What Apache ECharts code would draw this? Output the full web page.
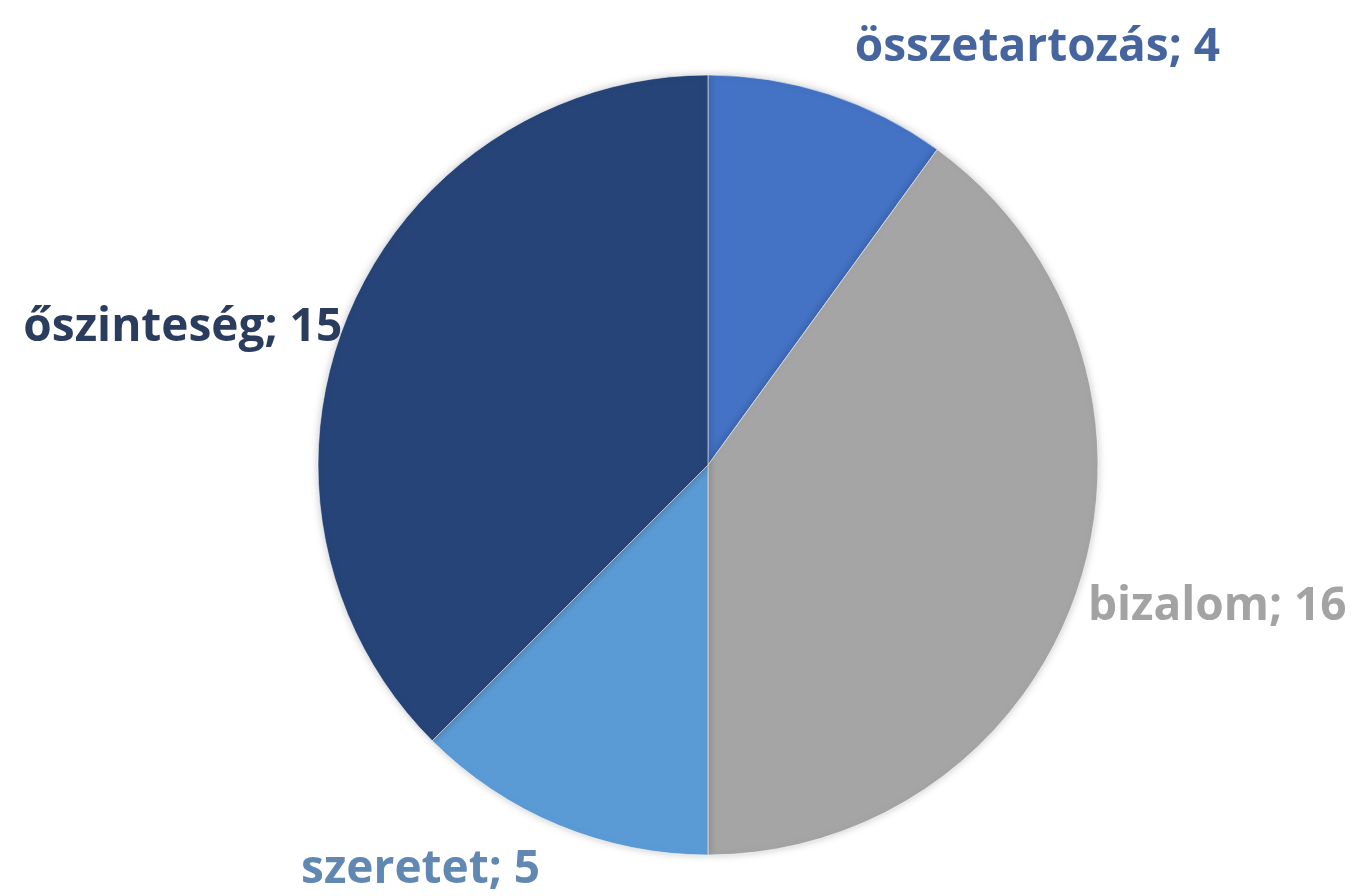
<!DOCTYPE html>
<html>
<head>
<meta charset="utf-8">
<script src="https://cdn.jsdelivr.net/npm/echarts@6/dist/echarts.min.js"></script>
<style>
  html, body { margin: 0; padding: 0; background: #ffffff; }
  #chart { width: 1361px; height: 896px; }
</style>
</head>
<body>
<div id="chart"></div>
<script>
// Values by category, clockwise from 12 o'clock
const categories = ['összetartozás', 'bizalom', 'szeretet', 'őszinteség'];
const values = [4, 16, 5, 15];

// Slice fills and label text colours
const sliceColors = ['#4472C4', '#A5A5A5', '#5B9BD5', '#264478'];
const labelColors = ['#46659f', '#a3a3a3', '#6188b2', '#2b3d5e'];

// Small nudges of each label away from its default outside spot
const labelNudge = [[15, -27], [-15, 15], [-6, 26], [18, 20]];

const chart = echarts.init(document.getElementById('chart'));

const data = categories.map((name, i) => ({
  name: name,
  value: values[i],
  itemStyle: { color: sliceColors[i] },
  label: { color: labelColors[i] }
}));

chart.setOption({
  animation: false,
  series: [{
    type: 'pie',
    center: [708, 465],
    radius: 390,
    startAngle: 90,
    clockwise: true,
    data: data,
    itemStyle: {
      borderColor: 'rgba(255,255,255,0.55)',
      borderWidth: 1,
      shadowBlur: 8,
      shadowColor: 'rgba(0,0,0,0.22)'
    },
    label: {
      show: true,
      position: 'outside',
      formatter: '{b}; {c}',
      fontFamily: 'Open Sans',
      fontWeight: 'bold',
      fontSize: 46,
      overflow: 'none'
    },
    labelLine: { show: false, length: 20, length2: 0 },
    labelLayout: function (params) {
      const n = labelNudge[params.dataIndex];
      return { dx: n[0], dy: n[1] };
    }
  }]
});
</script>
</body>
</html>
